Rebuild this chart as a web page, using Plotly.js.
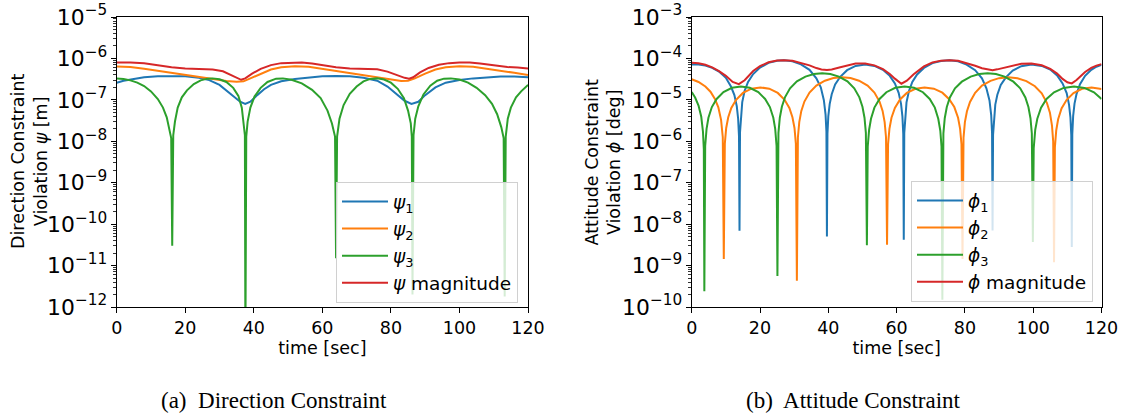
<!DOCTYPE html>
<html>
<head>
<meta charset="utf-8">
<script src="https://cdn.plot.ly/plotly-3.0.1.min.js"></script>
<style>html,body{margin:0;padding:0;background:#fff;}#chart{width:1126px;height:418px;}</style>
</head>
<body>
<div id="chart"></div>
<script>
// ---------- (a) Direction constraint ----------
const psi1T = [0,2,5,8,12,16,20,24,27,30,32,34,36,37.5,39,41,43,45,48,52,56,60,64,68,72,76,79,82,84,86,88,90,93,96,100,104,108,112,116,120];
const psi1V = [2.6e-7,2.9e-7,3.2e-7,3.5e-7,3.7e-7,3.75e-7,3.7e-7,3.4e-7,3.0e-7,2.3e-7,1.7e-7,1.2e-7,9e-8,8e-8,9e-8,1.3e-7,1.8e-7,2.3e-7,2.8e-7,3.2e-7,3.5e-7,3.7e-7,3.75e-7,3.7e-7,3.4e-7,2.9e-7,2.1e-7,1.3e-7,9.5e-8,8e-8,9e-8,1.3e-7,2e-7,2.6e-7,3e-7,3.3e-7,3.5e-7,3.65e-7,3.65e-7,3.5e-7];

const psi2T = [0,4,8,12,16,20,24,28,32,35,37,39,42,45,48,52,56,60,64,68,72,76,80,83,85,87,90,93,96,100,104,108,112,116,120];
const psi2V = [6.4e-7,6.2e-7,5.6e-7,5e-7,4.4e-7,3.9e-7,3.5e-7,3.1e-7,2.85e-7,2.75e-7,2.8e-7,3.3e-7,4.3e-7,5.4e-7,6.1e-7,6.5e-7,6.3e-7,5.6e-7,4.9e-7,4.3e-7,3.8e-7,3.4e-7,3.0e-7,2.85e-7,2.9e-7,3.3e-7,4.3e-7,5.4e-7,6.1e-7,6.5e-7,6.3e-7,5.7e-7,5e-7,4.5e-7,4e-7];

const psi3T = [0,2,4,6,8,10,12,13.5,14.6,15.4,15.9,16.2,16.5,17,17.8,19,20.5,22.5,24.5,26.5,28,30,32,34,35.5,36.5,37.1,37.4,37.55,37.8,38.2,39,40.2,42,44,46.5,48.5,51,54,57,59.5,61.5,62.8,63.7,64.0,64.3,65,66.2,68,70,72,74,76,78,80,82,83.8,85,85.8,86.1,86.3,86.6,87.1,88,89.5,91.5,93.5,95.5,97.5,100,102.5,105,107.5,109.5,111,112.2,112.9,113.2,113.5,114.1,115,116.5,118,120];
const psi3V = [3.3e-7,3.2e-7,2.95e-7,2.6e-7,2.15e-7,1.6e-7,1.05e-7,6.5e-8,3.8e-8,1.9e-8,1.2e-8,3e-11,1.4e-8,3e-8,6.5e-8,1.15e-7,1.7e-7,2.4e-7,2.95e-7,3.25e-7,3.3e-7,3.15e-7,2.7e-7,1.95e-7,1.25e-7,6.5e-8,2.8e-8,1.4e-8,1e-13,1.3e-8,3e-8,6.5e-8,1.2e-7,1.95e-7,2.7e-7,3.25e-7,3.3e-7,3.05e-7,2.5e-7,1.75e-7,1.1e-7,5.5e-8,2.7e-8,1.3e-8,1.5e-11,1.3e-8,3.5e-8,7.5e-8,1.4e-7,2.1e-7,2.8e-7,3.2e-7,3.3e-7,3.1e-7,2.6e-7,1.85e-7,1.1e-7,5.5e-8,2.7e-8,1.3e-8,2e-12,1.4e-8,3.5e-8,7e-8,1.35e-7,2.2e-7,2.9e-7,3.25e-7,3.3e-7,3.1e-7,2.6e-7,1.95e-7,1.3e-7,8e-8,4.5e-8,2.2e-8,1.2e-8,1.8e-12,1.3e-8,3.5e-8,6.5e-8,1.15e-7,1.6e-7,2.3e-7];

const psiMagT = [0,4,8,12,16,20,24,28,31,33,35,36.3,37.5,39.5,42,45,48,51,54,57,60,64,68,72,76,79,82,84,85.3,86.5,88.5,91,94,97,100,103,106,110,114,117,120];
const psiMagV = [8e-7,8e-7,7.6e-7,6.8e-7,6.1e-7,5.7e-7,5.5e-7,5.4e-7,4.9e-7,4.1e-7,3.4e-7,3.05e-7,3.3e-7,4.3e-7,5.6e-7,6.9e-7,7.7e-7,8e-7,8e-7,7.5e-7,6.8e-7,6.1e-7,5.7e-7,5.6e-7,5.5e-7,4.8e-7,3.9e-7,3.4e-7,3.25e-7,3.5e-7,4.6e-7,5.9e-7,7e-7,7.7e-7,8e-7,8e-7,7.5e-7,6.8e-7,6.2e-7,6e-7,5.7e-7];

// ---------- (b) Attitude constraint ----------
const phi1T = [0,2,4,6,8,10,11.5,12.5,13.2,13.6,13.85,14.0,14.15,14.4,14.8,15.5,16.5,18,20,22.5,25,27,29.5,32,34.5,36.5,37.8,38.7,39.2,39.45,39.6,39.75,40.0,40.4,41.0,42,43.5,45.5,48,50.8,53.5,56,58,59.5,60.6,61.3,61.7,61.95,62.1,62.25,62.5,62.9,63.6,64.6,66,68,70.5,73,75.5,78,80.5,83,85,86.3,87.2,87.7,87.95,88.1,88.25,88.5,88.9,89.5,90.5,92,94,96.5,99.5,102.5,105,107,108.6,109.8,110.5,110.9,111.15,111.3,111.45,111.7,112.1,112.7,113.7,115.2,117,118.5,120];
const phi1V = [7.1e-5,7.1e-5,6.7e-5,5.9e-5,4.8e-5,3.4e-5,2.1e-5,1.3e-5,7e-6,3.5e-6,1.3e-6,6.9e-9,1.66e-6,4.4e-6,8.8e-6,1.65e-5,2.7e-5,4.2e-5,6e-5,7.8e-5,8.8e-5,9e-5,8.5e-5,7.2e-5,5.3e-5,3.3e-5,2e-5,9.8e-6,4.4e-6,1.7e-6,5e-9,1.5e-6,4e-6,7.9e-6,1.37e-5,2.35e-5,3.6e-5,5.2e-5,6.6e-5,7.1e-5,6.6e-5,5.3e-5,3.8e-5,2.5e-5,1.48e-5,8e-6,4e-6,1.5e-6,4.2e-9,1.6e-6,4.3e-6,8.7e-6,1.6e-5,2.7e-5,4.1e-5,5.9e-5,7.7e-5,8.7e-5,9e-5,8.5e-5,7.1e-5,5.2e-5,3.3e-5,1.9e-5,9.7e-6,4.3e-6,1.6e-6,7e-9,1.45e-6,3.8e-6,7.7e-6,1.33e-5,2.3e-5,3.5e-5,5.1e-5,6.5e-5,7.1e-5,6.6e-5,5.4e-5,3.9e-5,2.5e-5,1.45e-5,7.6e-6,3.8e-6,1.4e-6,2.8e-9,1.5e-6,4.1e-6,8.1e-6,1.4e-5,2.4e-5,3.8e-5,5.3e-5,6.3e-5,7e-5];

const phi2T = [0,2,4,5.5,6.8,7.8,8.6,9.1,9.4,9.7,10.1,10.7,11.6,13,15,17.5,20.1,22.7,25.2,27.2,28.6,29.5,30.1,30.5,30.8,31.1,31.5,32.1,33,34.5,36.5,39,41.5,44,46.5,49,51.5,53.5,55,55.9,56.5,56.9,57.2,57.5,57.9,58.5,59.5,61,63,65.5,68.2,70.9,73.4,75.4,76.9,78,78.6,79,79.3,79.6,80,80.6,81.5,83,85,87.5,90,92.7,95.4,98,100.5,102.5,104,104.9,105.5,105.85,106.1,106.35,106.75,107.3,108.3,109.8,111.8,114.3,117.1,120];
const phi2V = [3.15e-5,2.7e-5,2.1e-5,1.57e-5,1.05e-5,6.6e-6,3.3e-6,1.25e-6,1.45e-9,8.8e-7,2.1e-6,3.8e-6,6.4e-6,1e-5,1.47e-5,1.86e-5,2e-5,1.86e-5,1.47e-5,1e-5,6.4e-6,3.8e-6,2.1e-6,8.8e-7,4.3e-10,1.25e-6,2.9e-6,5.4e-6,9.1e-6,1.5e-5,2.2e-5,2.9e-5,3.35e-5,3.5e-5,3.35e-5,2.9e-5,2.2e-5,1.5e-5,9.1e-6,5.4e-6,2.9e-6,1.25e-6,3.2e-9,8.5e-7,2e-6,3.7e-6,6.4e-6,1.02e-5,1.47e-5,1.85e-5,2e-5,1.86e-5,1.49e-5,1.04e-5,6.7e-6,3.7e-6,2e-6,8.5e-7,1.45e-9,1.23e-6,2.9e-6,5.3e-6,8.9e-6,1.48e-5,2.2e-5,2.87e-5,3.34e-5,3.5e-5,3.33e-5,2.83e-5,2.13e-5,1.44e-5,8.5e-6,4.9e-6,2.4e-6,1e-6,1.2e-9,7.2e-7,1.85e-6,3.4e-6,6.2e-6,1e-5,1.46e-5,1.85e-5,2e-5,1.83e-5];

const phi3T = [0,1,2,2.8,3.3,3.55,3.7,3.95,4.35,4.9,5.9,7.3,9.3,11.8,14.4,17,19.5,21.5,22.9,23.9,24.45,24.85,25.1,25.4,25.8,26.4,27.3,28.8,30.8,33.3,35.8,38.2,40.6,43.1,45.6,47.6,49.1,50,50.6,51,51.3,51.55,51.95,52.5,53.5,55,57,59.6,62.35,65.1,67.7,69.7,71.2,72.2,72.8,73.15,73.4,73.7,74.1,74.7,75.6,77.1,79.1,81.7,84.2,86.65,89.1,91.6,94.2,96.2,97.7,98.6,99.2,99.6,99.9,100.15,100.6,101.2,102.3,103.9,106.1,108.9,111.95,115,117.8,120];
const phi3V = [1.55e-5,1.14e-5,7.3e-6,3.9e-6,1.7e-6,6.4e-7,2.4e-10,7.7e-7,2e-6,3.7e-6,6.7e-6,1.05e-5,1.54e-5,1.95e-5,2.1e-5,1.95e-5,1.54e-5,1.05e-5,6.7e-6,3.7e-6,2e-6,7.7e-7,5.6e-10,1.6e-6,3.7e-6,6.8e-6,1.15e-5,1.9e-5,2.8e-5,3.65e-5,4.2e-5,4.4e-5,4.2e-5,3.65e-5,2.8e-5,1.9e-5,1.15e-5,6.8e-6,3.7e-6,1.6e-6,3.1e-9,7.5e-7,1.9e-6,3.5e-6,6.5e-6,1.05e-5,1.53e-5,1.95e-5,2.1e-5,1.95e-5,1.53e-5,1.05e-5,6.5e-6,3.5e-6,1.8e-6,7.5e-7,1.5e-10,1.55e-6,3.6e-6,6.7e-6,1.14e-5,1.9e-5,2.75e-5,3.65e-5,4.2e-5,4.4e-5,4.2e-5,3.65e-5,2.75e-5,1.9e-5,1.14e-5,6.7e-6,3.6e-6,1.55e-6,3.7e-9,6.8e-7,1.9e-6,3.5e-6,6.5e-6,1.05e-5,1.52e-5,1.94e-5,2.1e-5,1.94e-5,1.52e-5,1.05e-5];

const phiMagT = [0,2,4,6,8,10,12,13.8,15.5,18,20,22.5,25,27,29.5,32,34.5,36.5,38,39.6,41,43.5,45.5,48,50.8,53.5,56,58,59.5,61.4,63,65,68,70.5,73,75.5,78,80.5,83,85,86.5,88.1,89.5,92,94,96.5,99.5,102.5,105,107,108.6,110,111.3,112.7,115.2,117,118.5,120];
const phiMagV = [7.9e-5,7.63e-5,7.03e-5,6.07e-5,4.95e-5,3.8e-5,2.7e-5,2.4e-5,2.97e-5,4.96e-5,6.5e-5,8.1e-5,8.9e-5,9.1e-5,8.8e-5,7.9e-5,6.8e-5,5.85e-5,5.4e-5,5.25e-5,5.4e-5,6.1e-5,6.8e-5,7.55e-5,7.5e-5,6.8e-5,5.5e-5,4.2e-5,3.25e-5,2.45e-5,2.9e-5,4.15e-5,6.4e-5,8e-5,8.85e-5,9.1e-5,8.8e-5,7.75e-5,6.65e-5,5.8e-5,5.45e-5,5.2e-5,5.45e-5,6.05e-5,6.75e-5,7.45e-5,7.5e-5,6.85e-5,5.6e-5,4.3e-5,3.2e-5,2.65e-5,2.5e-5,3e-5,4.7e-5,5.9e-5,6.7e-5,7.3e-5];

const seriesColors = ['#1f77b4', '#ff7f0e', '#2ca02c', '#d62728'];
const psiNames = ['<i>ψ</i><sub>1</sub>', '<i>ψ</i><sub>2</sub>', '<i>ψ</i><sub>3</sub>', '<i>ψ</i> magnitude'];
const phiNames = ['<i>ϕ</i><sub>1</sub>', '<i>ϕ</i><sub>2</sub>', '<i>ϕ</i><sub>3</sub>', '<i>ϕ</i> magnitude'];
const xTicks = [0, 20, 40, 60, 80, 100, 120];
const yTitleA = 'Direction Constraint<br>Violation <i>ψ</i> [m]';
const yTitleB = 'Attitude Constraint<br>Violation <i>ϕ</i> [deg]';

const psiSets = [[psi1T, psi1V], [psi2T, psi2V], [psi3T, psi3V], [psiMagT, psiMagV]];
const phiSets = [[phi1T, phi1V], [phi2T, phi2V], [phi3T, phi3V], [phiMagT, phiMagV]];

const FONT = 'DejaVu Sans, sans-serif';
const traces = [];
psiSets.forEach((s, i) => traces.push({
  x: s[0], y: s[1], type: 'scatter', mode: 'lines', name: psiNames[i],
  line: {color: seriesColors[i], width: 2}, xaxis: 'x', yaxis: 'y', legend: 'legend'
}));
phiSets.forEach((s, i) => traces.push({
  x: s[0], y: s[1], type: 'scatter', mode: 'lines', name: phiNames[i],
  line: {color: seriesColors[i], width: 2}, xaxis: 'x2', yaxis: 'y2', legend: 'legend2'
}));

const W = 1126, H = 418;
const yDom = [(H - 307) / H, (H - 17) / H];

function xAxis(domain) {
  return {
    domain: domain, range: [0, 120], tickvals: xTicks, ticks: 'outside', ticklen: 5, tickwidth: 1,
    tickcolor: '#000', showline: true, linecolor: '#000', linewidth: 1, mirror: true,
    showgrid: false, zeroline: false, tickfont: {family: FONT, size: 17.5, color: '#000'},
    title: {text: 'time [sec]', font: {family: FONT, size: 17.5, color: '#000'}, standoff: 2}
  };
}
function yAxis(domain, range, anchor) {
  return {
    domain: yDom, type: 'log', range: range, dtick: 1, exponentformat: 'power',
    ticks: 'outside', ticklen: 5, tickwidth: 1, tickcolor: '#000',
    minor: {ticks: 'outside', ticklen: 2.5, tickwidth: 0.8, tickcolor: '#000', showgrid: false},
    showline: true, linecolor: '#000', linewidth: 1, mirror: true, showgrid: false, zeroline: false,
    tickfont: {family: FONT, size: 17.5, color: '#000'}, anchor: anchor
  };
}

const legendCommon = {
  bgcolor: 'rgba(255,255,255,0.8)', bordercolor: '#d0d0d0', borderwidth: 1,
  font: {family: FONT, size: 18.5, color: '#000'}, xanchor: 'left', yanchor: 'top',
  itemwidth: 46, tracegroupgap: 0
};

const titleFont = {family: FONT, size: 17.5, color: '#000'};
const captionFont = {family: 'Liberation Serif, Times New Roman, serif', size: 23, color: '#000'};

const layout = {
  width: W, height: H, margin: {l: 0, r: 0, t: 0, b: 0},
  paper_bgcolor: '#fff', plot_bgcolor: '#fff', showlegend: true,
  font: {family: FONT, color: '#000'},
  xaxis: Object.assign(xAxis([116.7 / W, 528 / W]), {anchor: 'y'}),
  yaxis: yAxis(yDom, [-12, -5], 'x'),
  xaxis2: Object.assign(xAxis([691.7 / W, 1101.5 / W]), {anchor: 'y2'}),
  yaxis2: yAxis(yDom, [-10, -3], 'x2'),
  legend: Object.assign({}, legendCommon, {x: 336 / W, y: (H - 182) / H}),
  legend2: Object.assign({}, legendCommon, {x: 911 / W, y: (H - 181) / H}),
  annotations: [
    {text: yTitleA, xref: 'paper', yref: 'paper', x: 29 / W, y: (H - 162) / H, textangle: -90,
     xanchor: 'center', yanchor: 'middle', showarrow: false, font: titleFont},
    {text: yTitleB, xref: 'paper', yref: 'paper', x: 602.5 / W, y: (H - 162) / H, textangle: -90,
     xanchor: 'center', yanchor: 'middle', showarrow: false, font: titleFont},
    {text: '(a)  Direction Constraint', xref: 'paper', yref: 'paper', x: 273.5 / W, y: (H - 400.5) / H,
     xanchor: 'center', yanchor: 'middle', showarrow: false, font: captionFont},
    {text: '(b)  Attitude Constraint', xref: 'paper', yref: 'paper', x: 853 / W, y: (H - 400.5) / H,
     xanchor: 'center', yanchor: 'middle', showarrow: false, font: captionFont}
  ]
};

Plotly.newPlot('chart', traces, layout, {staticPlot: true, displayModeBar: false});
</script>
</body>
</html>
